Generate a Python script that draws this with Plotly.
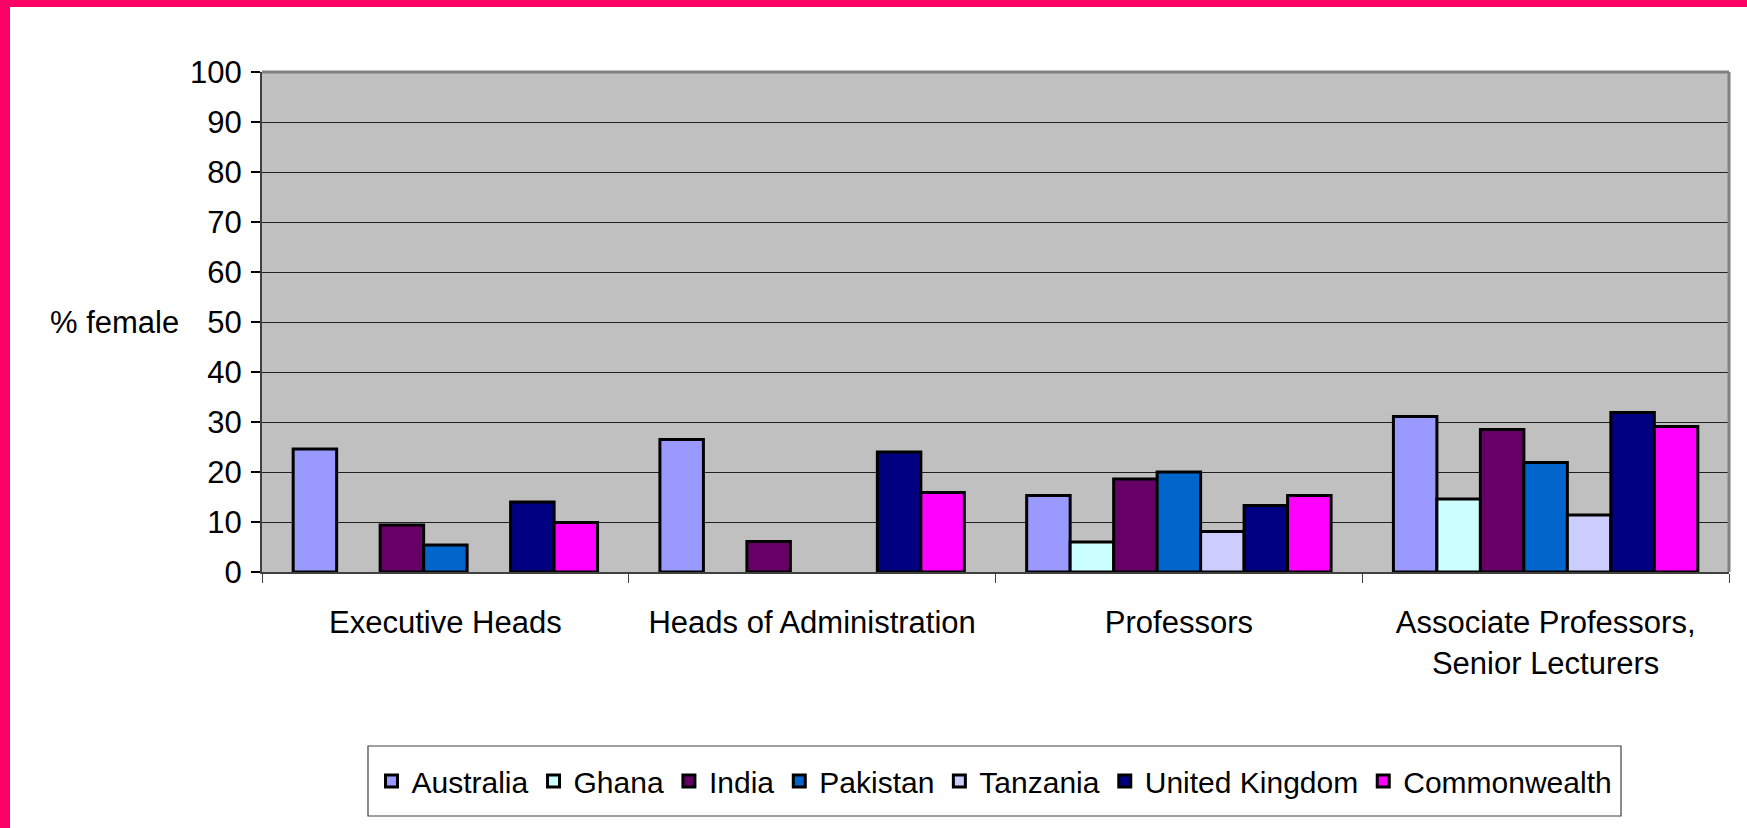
import plotly.graph_objects as go

# ---------------- data ----------------
categories = ["Executive Heads", "Heads of Administration", "Professors",
              "Associate Professors,<br>Senior Lecturers"]
countries = ["Australia", "Ghana", "India", "Pakistan", "Tanzania",
             "United Kingdom", "Commonwealth"]
australia = [24.6, 26.5, 15.3, 31.1]
ghana = [None, None, 6.0, 14.6]
india = [9.4, 6.1, 18.6, 28.5]
pakistan = [5.4, None, 20.0, 21.9]
tanzania = [None, None, 8.1, 11.4]
united_kingdom = [14.0, 24.0, 13.3, 31.9]
commonwealth = [9.9, 15.9, 15.3, 29.1]
y_ticks = [0, 10, 20, 30, 40, 50, 60, 70, 80, 90, 100]
y_title = "% female"

series = [australia, ghana, india, pakistan, tanzania, united_kingdom, commonwealth]
colors = ["#9999FF", "#CCFFFF", "#660066", "#0066CC", "#CCCCFF", "#000080", "#FF00FF"]

# ---------------- layout geometry ----------------
W, H = 1747, 828
ML, MR, MT, MB = 262, 18, 72, 256
PW, PH = W - ML - MR, H - MT - MB


def pxx(px):
    return (px - ML) / PW


def pxy(py):
    return (H - MB - py) / PH


FONT = "Arial, 'Liberation Sans', sans-serif"
FS = 31
LFS = 30

fig = go.Figure()
for name, vals, col in zip(countries, series, colors):
    fig.add_trace(go.Bar(
        name=name, x=categories, y=vals,
        marker=dict(color=col, line=dict(color="#000000", width=3)),
    ))

shapes = [
    # pink frame (left and top)
    dict(type="rect", xref="paper", yref="paper", x0=pxx(0), x1=pxx(10),
         y0=pxy(H), y1=pxy(0), fillcolor="#FF0066", line=dict(width=0), layer="below"),
    dict(type="rect", xref="paper", yref="paper", x0=pxx(0), x1=pxx(W),
         y0=pxy(7), y1=pxy(0), fillcolor="#FF0066", line=dict(width=0), layer="below"),
    # plot area top/right border
    dict(type="line", xref="paper", yref="paper", x0=0, x1=1, y0=1, y1=1,
         line=dict(color="#808080", width=3)),
    dict(type="line", xref="paper", yref="paper", x0=1, x1=1, y0=0, y1=1,
         line=dict(color="#808080", width=3)),
    # legend box
    dict(type="rect", xref="paper", yref="paper", x0=pxx(368), x1=pxx(1621),
         y0=pxy(816), y1=pxy(746), fillcolor="#FFFFFF",
         line=dict(color="#404040", width=1.2), layer="below"),
]

fig.update_layout(
    width=W, height=H,
    margin=dict(l=ML, r=MR, t=MT, b=MB, pad=0),
    paper_bgcolor="#FFFFFF",
    plot_bgcolor="#C0C0C0",
    font=dict(family=FONT, size=FS, color="#000000"),
    barmode="group",
    bargap=0.17,
    bargroupgap=0,
    shapes=shapes,
    showlegend=True,
    legend=dict(
        orientation="h", x=pxx((368 + 1621) / 2), xanchor="center",
        y=pxy(781), yanchor="middle",
        bgcolor="rgba(0,0,0,0)", borderwidth=0,
        font=dict(family=FONT, size=LFS, color="#000000"),
        itemclick=False, traceorder="normal",
    ),
    annotations=[
        dict(text=y_title, xref="paper", yref="y", x=pxx(48), y=50,
             xanchor="left", yanchor="middle", showarrow=False,
             font=dict(family=FONT, size=FS, color="#000000")),
    ],
)

fig.update_yaxes(
    range=[0, 100], tickvals=y_ticks, ticktext=[str(v) for v in y_ticks],
    showgrid=True, gridcolor="#202020", gridwidth=1,
    zeroline=False,
    showline=True, linecolor="#404040", linewidth=2,
    ticks="outside", ticklen=9, tickcolor="#000000", tickwidth=1.5,
    ticklabelstandoff=3,
    tickfont=dict(family=FONT, size=FS, color="#000000"),
    fixedrange=True,
)
fig.update_xaxes(
    type="category",
    showgrid=False, zeroline=False,
    showline=True, linecolor="#404040", linewidth=2,
    ticks="outside", tickson="boundaries", ticklen=9, tickcolor="#404040", tickwidth=1,
    ticklabelstandoff=22,
    tickfont=dict(family=FONT, size=FS, color="#000000"),
    fixedrange=True,
)

fig.write_html("out.html",
               config={"displayModeBar": False},
               post_script="document.body.style.margin='0';document.body.style.overflow='hidden';")
